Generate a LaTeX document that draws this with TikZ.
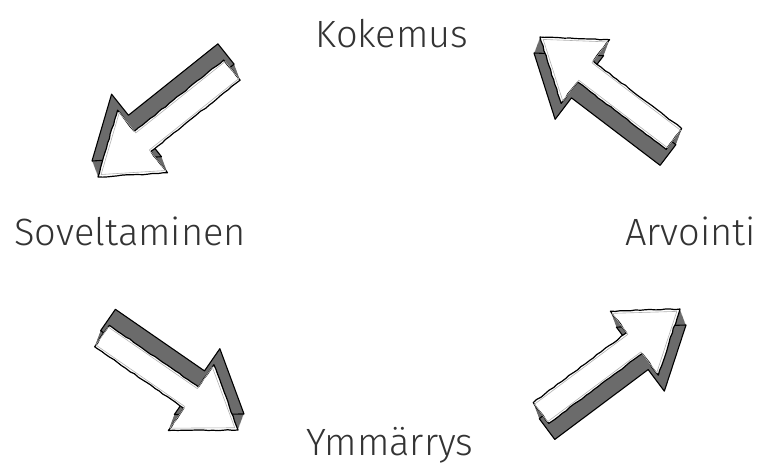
\documentclass[tikz,border=0pt]{standalone}
\usepackage{fontspec}
\setmainfont{Fira Sans Light}
\usetikzlibrary{calc,decorations.pathmorphing}
\def\ashaft{13pt}
\def\ahw{40pt}
\def\ahead{57pt}
\tikzset{
  lbl/.style={text=black!80,font=\fontsize{38}{40}\selectfont,inner sep=0pt,anchor=base},
  sidefill/.style={fill=black!58},
  backline/.style={draw=black,line width=1.1pt,line join=round},
  frontface/.style={fill=white,draw=black,line width=1.2pt,line join=round,
    decorate,decoration={random steps,segment length=5pt,amplitude=0.5pt}},
  innerface/.style={draw=black!30,line width=0.6pt,line join=round},
}
\newcommand\sketcharrow[4]{%
  \coordinate (#1t) at #2;
  \coordinate (#1p) at #3;
  \coordinate (#1n) at ($(#1p)!\ahead!(#1t)$);
  \coordinate (#1a) at ($(#1t)!\ashaft!90:(#1p)$);
  \coordinate (#1b) at ($(#1n)!\ashaft!90:(#1p)$);
  \coordinate (#1c) at ($(#1n)!\ahw!90:(#1p)$);
  \coordinate (#1d) at ($(#1n)!\ahw!-90:(#1p)$);
  \coordinate (#1e) at ($(#1n)!\ashaft!-90:(#1p)$);
  \coordinate (#1f) at ($(#1t)!\ashaft!-90:(#1p)$);
  \foreach \k in {0,1,...,20}{
    \fill[sidefill]
      ($(#1a)+\k/20*#4$)--($(#1b)+\k/20*#4$)--($(#1c)+\k/20*#4$)--($(#1p)+\k/20*#4$)
      --($(#1d)+\k/20*#4$)--($(#1e)+\k/20*#4$)--($(#1f)+\k/20*#4$)--cycle;
  }
  \draw[backline]
      ($(#1a)+#4$)--($(#1b)+#4$)--($(#1c)+#4$)--($(#1p)+#4$)
      --($(#1d)+#4$)--($(#1e)+#4$)--($(#1f)+#4$)--cycle;
  \path[frontface] (#1a)--(#1b)--(#1c)--(#1p)--(#1d)--(#1e)--(#1f)--cycle;
  \path[innerface] ($(#1a)!0.08!(#1f)$)--($(#1b)!0.08!(#1e)$)--($(#1c)!0.07!(#1n)$)
      --($(#1p)!0.07!(#1n)$)--($(#1d)!0.07!(#1n)$)--($(#1e)!0.08!(#1b)$)
      --($(#1f)!0.08!(#1a)$)--cycle;
}
\begin{document}
\begin{tikzpicture}[x=1pt,y=-1pt]
\useasboundingbox (0,0) rectangle (758,464);
% labels
\node[lbl] (kok) at (392,47) {Kokemus};
\node[lbl,anchor=base west] (sov) at (14,245) {Soveltaminen};
\node[lbl,anchor=base east] (arv) at (756,245) {Arvointi};
\node[lbl] (ymm) at (390,455) {Ymmärrys};
% arrows
\sketcharrow{A}{(232,70)}{(98,177)}{(-6,-16)}
\sketcharrow{B}{(674,139)}{(540,37)}{(-6,16)}
\sketcharrow{C}{(102,336)}{(238,430)}{(6,-16)}
\sketcharrow{D}{(541,413)}{(680,309)}{(6,16)}
\end{tikzpicture}
\end{document}
